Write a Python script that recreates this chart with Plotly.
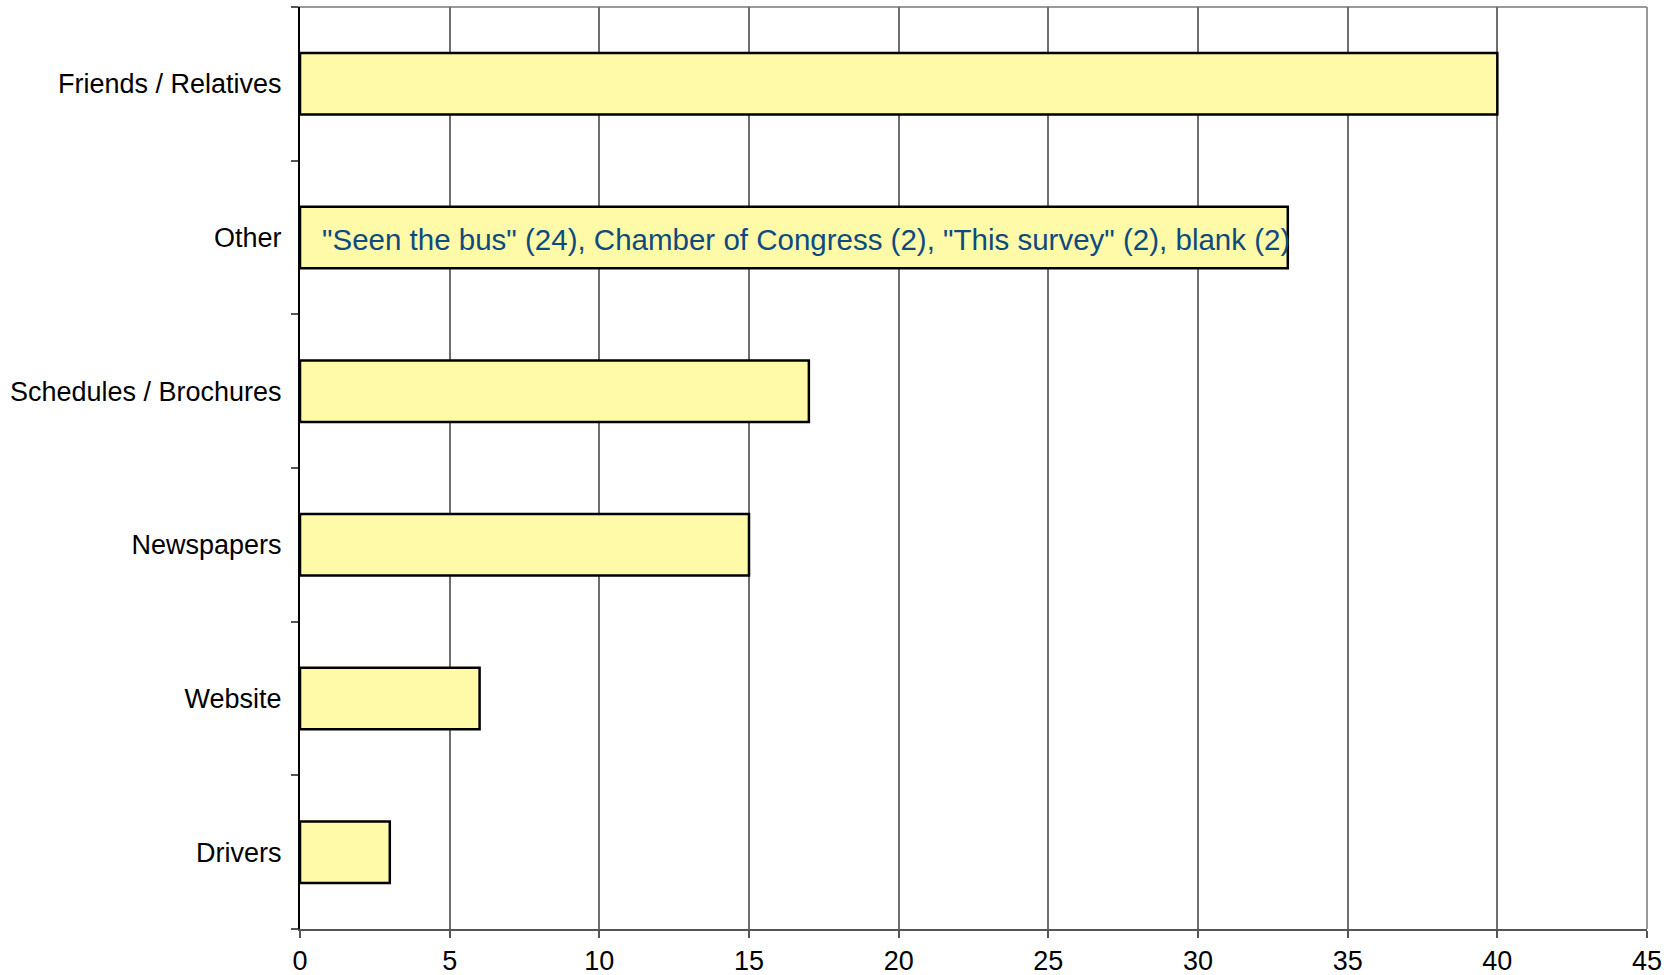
import plotly.graph_objects as go

categories = ["Friends / Relatives", "Other", "Schedules / Brochures", "Newspapers", "Website", "Drivers"]
values = [40, 33, 17, 15, 6, 3]
x_ticks = [0, 5, 10, 15, 20, 25, 30, 35, 40, 45]
other_note = '"Seen the bus" (24), Chamber of Congress (2), "This survey" (2), blank (2)'

cats_plot = categories[::-1]
vals_plot = values[::-1]

fig = go.Figure()
fig.add_trace(go.Bar(
    x=vals_plot, y=cats_plot, orientation="h",
    marker=dict(color="#FFFAA8", line=dict(color="#000000", width=2.5)),
    hoverinfo="skip",
))

fig.add_annotation(
    x=0, y="Other", xref="x", yref="y", text=other_note, showarrow=False,
    xanchor="left", yanchor="middle", xshift=20, yshift=-2,
    font=dict(family="Liberation Sans, Arial, sans-serif", size=29.5, color="#0E4A7E"),
)

# gray frame (top and right)
fig.add_shape(type="line", xref="paper", yref="paper", x0=-0.0052, x1=1, y0=1, y1=1,
              line=dict(color="#999999", width=2), layer="below")
fig.add_shape(type="line", xref="paper", yref="paper", x0=1, x1=1, y0=0, y1=1,
              line=dict(color="#999999", width=2), layer="below")

fig.update_layout(
    width=1675, height=975,
    margin=dict(l=300, r=28, t=7, b=46),
    plot_bgcolor="white", paper_bgcolor="white",
    bargap=0.6,
    showlegend=False,
    font=dict(family="Liberation Sans, Arial, sans-serif", size=27, color="#000000"),
)
fig.update_xaxes(
    range=[0, 45], tickvals=x_ticks, ticktext=[str(t) for t in x_ticks],
    showgrid=True, gridcolor="#6E6E6E", gridwidth=1.5,
    showline=True, linecolor="#555555", linewidth=2,
    ticks="outside", ticklen=7, tickcolor="#555555", tickwidth=1.5,
    zeroline=False, tickfont=dict(size=27), automargin=False,
)
fig.update_yaxes(
    type="category", categoryorder="array", categoryarray=cats_plot,
    showgrid=False, showline=True, linecolor="#000000", linewidth=2,
    ticks="outside", ticklen=7, tickcolor="#555555", tickwidth=1.5,
    tickson="boundaries", ticklabelstandoff=11, tickfont=dict(size=27),
    automargin=False,
)

fig.write_html("out.html",
               config={"displayModeBar": False},
               post_script="document.body.style.margin='0';document.body.style.overflow='hidden';")
